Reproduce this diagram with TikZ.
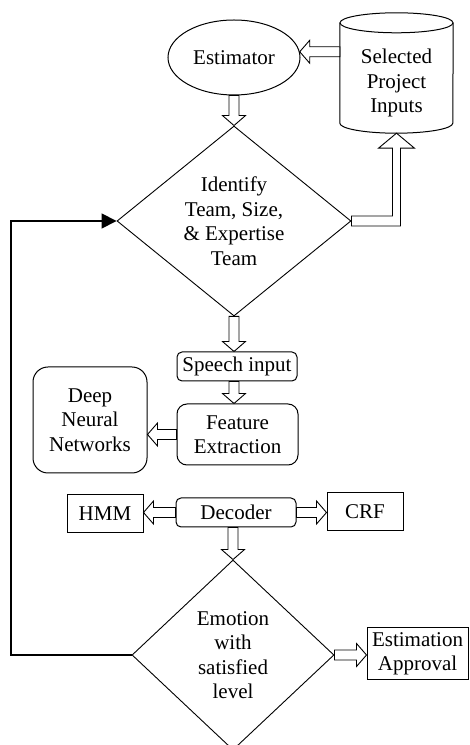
\documentclass[tikz,border=0pt]{standalone}
\usepackage{fontspec}
\setmainfont{Liberation Serif}
\usetikzlibrary{shapes.geometric,arrows.meta,calc}

\tikzset{
  txt/.style={font=\fontsize{21pt}{24.5pt}\selectfont, align=center, inner sep=0pt},
  box/.style={txt, draw, line width=1pt},
  rbox/.style={box, rounded corners=#1},
  decision/.style={txt, draw, shape=diamond, line width=0.9pt},
  % hollow block arrow between two points
  blockarrow/.style={draw, fill=white, line width=0.9pt,
    to path={let \p1=(\tikztostart), \p2=(\tikztotarget),
      \p3=($(\p2)!10pt!(\p1)$) in
      ($(\p1)!5pt!90:(\p2)$) -- ($(\p3)!5pt!90:(\p2)$) -- ($(\p3)!11.5pt!90:(\p2)$)
      -- (\p2) -- ($(\p3)!11.5pt!-90:(\p2)$) -- ($(\p3)!5pt!-90:(\p2)$)
      -- ($(\p1)!5pt!-90:(\p2)$) -- cycle}},
  loopline/.style={line width=1.6pt, -{Triangle[length=15pt,width=15pt]}}
}

\begin{document}
\begin{tikzpicture}[x=1pt,y=1pt]
\useasboundingbox (0,0) rectangle (470,745);
\clip (0,0) rectangle (470,745);

% nodes
\node[txt, draw, shape=ellipse, line width=1pt, minimum width=132pt, minimum height=75pt]
  (est) at (234,687.5) {Estimator};
\node[txt, minimum width=113pt, minimum height=100pt] (inp) at (396.5,662)
  {Selected\\Project\\Inputs};
\node[decision, minimum width=234pt, minimum height=190pt] (d1) at (234,524)
  {Identify\\Team, Size,\\\& Expertise\\Team};
\node[rbox=5pt, minimum width=120pt, minimum height=29pt] (sp) at (237,378.5) {Speech input};
\node[rbox=10pt, minimum width=121pt, minimum height=61pt] (fe) at (237.5,310.5) {Feature\\Extraction};
\node[rbox=15pt, minimum width=114pt, minimum height=106pt] (dnn) at (90,325) {Deep\\Neural\\Networks};
\node[box, minimum width=76pt, minimum height=38pt] (hmm) at (105,231) {HMM};
\node[rbox=5pt, minimum width=120pt, minimum height=29pt] (dec) at (236,232.5) {Decoder};
\node[box, minimum width=76pt, minimum height=38pt] (crf) at (365,233) {CRF};
\node[decision, minimum width=202pt, minimum height=190pt] (d2) at (233,90)
  {Emotion\\with\\satisfied\\level};
\node[box, minimum width=101pt, minimum height=52pt] (ea) at (417.5,91) {Estimation\\Approval};

% data store outline
\draw[line width=1pt] ($(inp.north)+(0,10pt)$) ellipse [x radius=56.5pt, y radius=10pt];
\draw[line width=1pt] ($(inp.north west)+(0,10pt)$) -- ($(inp.south west)+(0,10pt)$)
  arc[start angle=180, end angle=360, x radius=56.5pt, y radius=10pt]
  -- ($(inp.north east)+(0,10pt)$);

% flow arrows
\draw[blockarrow] (inp.west |- est.5) to (est.5);
\draw[blockarrow] (est.south) to (d1.north);
\draw[blockarrow] (d1.south) to (d1.south |- sp.north);
\draw[blockarrow] (d1.south |- sp.south) to (d1.south |- fe.north);
\draw[blockarrow] (fe.west) to (dnn.east |- fe.west);
\draw[blockarrow] (dec.west) to (hmm.east |- dec.west);
\draw[blockarrow] (dec.east) to (crf.west |- dec.east);
\draw[blockarrow] (d2.north |- dec.south) to (d2.north);
\draw[blockarrow] (d2.east) to (ea.west |- d2.east);

% elbow arrow up to the data store
\draw[draw, fill=white, line width=0.9pt]
  let \p1=(d1.east), \p2=(inp.south) in
  (\x1,\y1+5pt) -- (\x2-4pt,\y1+5pt) -- (\x2-4pt,\y2-15pt) -- (\x2-18pt,\y2-15pt)
  -- (\p2) -- (\x2+18pt,\y2-15pt) -- (\x2+4pt,\y2-15pt) -- (\x2+4pt,\y1-5pt)
  -- (\x1,\y1-5pt) -- cycle;

% feedback loop
\coordinate (loopx) at (11,0);
\draw[loopline] (d2.west) -- (loopx |- d2.west) -- (loopx |- d1.west) -- (d1.west);
\end{tikzpicture}
\end{document}
